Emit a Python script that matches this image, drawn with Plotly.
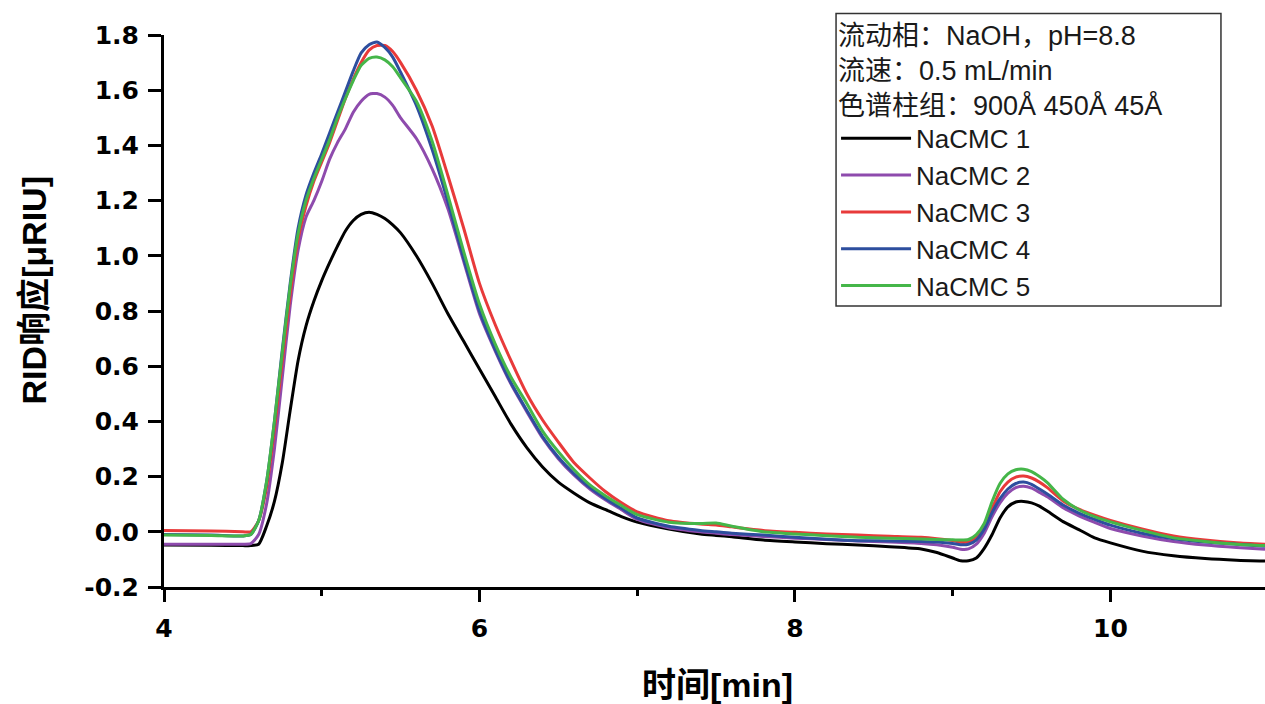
import plotly.graph_objects as go

# Retention time grid [min]
time_min = [4.0, 4.3, 4.5, 4.55, 4.6, 4.65, 4.7, 4.75, 4.8, 4.85, 4.9, 4.95, 5.0, 5.05,
            5.1, 5.15, 5.2, 5.25, 5.3, 5.35, 5.4, 5.45, 5.5, 5.6, 5.7, 5.8, 5.9, 6.0,
            6.1, 6.2, 6.3, 6.4, 6.5, 6.6, 6.7, 6.8, 6.9, 7.0, 7.2, 7.4, 7.5, 7.6, 7.8,
            8.0, 8.2, 8.4, 8.6, 8.8, 8.9, 9.0, 9.05, 9.1, 9.15, 9.2, 9.25, 9.3, 9.35,
            9.4, 9.45, 9.5, 9.55, 9.6, 9.7, 9.8, 9.9, 10.0, 10.2, 10.4, 10.6, 10.8, 10.98]

# RID response of each sample
nacmc_1 = [-0.048, -0.049, -0.05, -0.05, -0.045, 0.02, 0.11, 0.25, 0.44, 0.62, 0.745, 0.835, 0.91, 0.975,
           1.035, 1.09, 1.128, 1.15, 1.158, 1.15, 1.135, 1.112, 1.083, 1.0, 0.9, 0.79, 0.69, 0.59,
           0.49, 0.39, 0.305, 0.235, 0.18, 0.14, 0.105, 0.08, 0.055, 0.035, 0.01, -0.008, -0.013, -0.018, -0.03,
           -0.037, -0.043, -0.048, -0.054, -0.062, -0.075, -0.095, -0.105, -0.105, -0.095, -0.06, -0.01, 0.05, 0.09,
           0.108, 0.11, 0.105, 0.093, 0.075, 0.037, 0.008, -0.022, -0.04, -0.07, -0.087, -0.097, -0.103, -0.106]

nacmc_2 = [-0.045, -0.045, -0.045, -0.043, -0.01, 0.10, 0.30, 0.56, 0.82, 1.02, 1.14, 1.20, 1.27, 1.35,
           1.41, 1.46, 1.52, 1.56, 1.585, 1.588, 1.575, 1.545, 1.50, 1.425, 1.315, 1.17, 0.98, 0.79,
           0.655, 0.535, 0.435, 0.34, 0.265, 0.205, 0.155, 0.115, 0.08, 0.045, 0.015, 0.0, -0.005, -0.01, -0.017,
           -0.023, -0.028, -0.033, -0.037, -0.042, -0.047, -0.056, -0.063, -0.062, -0.045, -0.005, 0.055, 0.105, 0.14,
           0.16, 0.165, 0.158, 0.143, 0.127, 0.087, 0.058, 0.034, 0.012, -0.015, -0.035, -0.048, -0.057, -0.063]

nacmc_3 = [0.005, 0.003, 0.0, 0.0, 0.04, 0.16, 0.37, 0.62, 0.86, 1.06, 1.18, 1.27, 1.34, 1.41,
           1.49, 1.57, 1.64, 1.70, 1.745, 1.762, 1.762, 1.74, 1.70, 1.60, 1.47, 1.29, 1.10, 0.90,
           0.75, 0.62, 0.50, 0.405, 0.325, 0.25, 0.195, 0.145, 0.105, 0.072, 0.04, 0.028, 0.025, 0.018, 0.005,
           -0.002, -0.008, -0.012, -0.016, -0.02, -0.025, -0.032, -0.038, -0.036, -0.02, 0.02, 0.085, 0.145, 0.18,
           0.198, 0.202, 0.195, 0.18, 0.16, 0.112, 0.082, 0.06, 0.041, 0.01, -0.015, -0.03, -0.04, -0.045]

nacmc_4 = [-0.01, -0.012, -0.015, -0.01, 0.04, 0.18, 0.40, 0.66, 0.90, 1.10, 1.22, 1.30, 1.37, 1.445,
           1.52, 1.595, 1.67, 1.735, 1.765, 1.775, 1.755, 1.72, 1.665, 1.545, 1.385, 1.195, 0.99, 0.80,
           0.66, 0.54, 0.44, 0.345, 0.27, 0.21, 0.16, 0.12, 0.085, 0.05, 0.02, 0.005, 0.0, -0.005, -0.012,
           -0.02, -0.027, -0.032, -0.033, -0.035, -0.037, -0.042, -0.047, -0.045, -0.03, 0.01, 0.07, 0.12, 0.155,
           0.175, 0.18, 0.172, 0.155, 0.137, 0.097, 0.068, 0.045, 0.024, -0.005, -0.025, -0.037, -0.045, -0.052]

nacmc_5 = [-0.012, -0.013, -0.015, -0.01, 0.04, 0.18, 0.40, 0.65, 0.89, 1.08, 1.20, 1.28, 1.35, 1.42,
           1.50, 1.57, 1.635, 1.69, 1.715, 1.72, 1.71, 1.685, 1.645, 1.56, 1.415, 1.22, 1.015, 0.825,
           0.68, 0.56, 0.465, 0.365, 0.29, 0.225, 0.17, 0.13, 0.095, 0.062, 0.035, 0.03, 0.032, 0.02, 0.0,
           -0.008, -0.014, -0.02, -0.023, -0.026, -0.028, -0.029, -0.03, -0.028, -0.01, 0.03, 0.11, 0.175, 0.21,
           0.225, 0.227, 0.218, 0.2, 0.178, 0.118, 0.08, 0.055, 0.036, 0.005, -0.022, -0.035, -0.045, -0.05]

series_names = ["NaCMC 1", "NaCMC 2", "NaCMC 3", "NaCMC 4", "NaCMC 5"]
series_values = [nacmc_1, nacmc_2, nacmc_3, nacmc_4, nacmc_5]
series_colors = ["#000000", "#8E4BAD", "#E83A3A", "#2D4E9E", "#45B649"]

y_ticks = [-0.2, 0.0, 0.2, 0.4, 0.6, 0.8, 1.0, 1.2, 1.4, 1.6, 1.8]
x_ticks = [4, 6, 8, 10]

legend_header = "流动相：NaOH，pH=8.8<br>流速：0.5 mL/min<br>色谱柱组：900Å 450Å 45Å"

TEXT_FONT = "Liberation Sans, Arial, Noto Sans CJK SC, sans-serif"
TICK_FONT = "DejaVu Sans, Noto Sans CJK SC, sans-serif"

fig = go.Figure()
for name, vals, col in zip(series_names, series_values, series_colors):
    fig.add_trace(go.Scatter(
        x=time_min, y=vals, name=name, mode="lines",
        line=dict(color=col, width=3, shape="spline", smoothing=0.6),
    ))

axis_common = dict(
    showline=True, linecolor="black", linewidth=3,
    ticks="outside", tickcolor="black", tickwidth=3,
    showgrid=False, zeroline=False,
    tickfont=dict(family=TICK_FONT, size=25, color="black", weight="bold"),
)

fig.update_xaxes(
    range=[4, 10.98], tickvals=x_ticks, ticktext=[str(v) for v in x_ticks],
    ticklen=12, ticklabelstandoff=5,
    minor=dict(dtick=1, tick0=4, ticks="outside", ticklen=6, tickwidth=3, tickcolor="black"),
    **axis_common,
)
fig.update_yaxes(
    range=[-0.2, 1.8], tickvals=y_ticks, ticktext=[f"{v:.1f}" for v in y_ticks],
    ticklen=13, ticklabelstandoff=4,
    **axis_common,
)

# Axis titles
fig.add_annotation(
    text="时间[min]", xref="paper", yref="paper", x=0.503, y=-0.178,
    xanchor="center", yanchor="middle", showarrow=False,
    font=dict(family=TEXT_FONT, size=34, color="black", weight="bold"),
)
fig.add_annotation(
    text="RID响应[μRIU]", xref="paper", yref="paper", x=-0.1185, y=0.538,
    xanchor="center", yanchor="middle", showarrow=False, textangle=-90,
    font=dict(family=TEXT_FONT, size=34, color="black", weight="bold"),
)

# Frame around the legend block
fig.add_shape(
    type="rect", xref="paper", yref="paper",
    x0=0.6104, x1=0.96, y0=0.509, y1=1.039,
    line=dict(color="#333333", width=1.5), fillcolor="rgba(0,0,0,0)",
)

fig.update_layout(
    width=1265, height=704,
    margin=dict(l=164, r=0, t=35, b=117),
    paper_bgcolor="white", plot_bgcolor="white",
    showlegend=True,
    legend=dict(
        x=0.6104, y=1.046, xanchor="left", yanchor="top",
        bgcolor="rgba(0,0,0,0)", borderwidth=0,
        font=dict(family=TEXT_FONT, size=26, color="#1a1a1a"),
        title=dict(text=legend_header, font=dict(family=TEXT_FONT, size=27, color="#1a1a1a")),
        itemwidth=70, tracegroupgap=0,
    ),
)

fig.write_html("out.html")
